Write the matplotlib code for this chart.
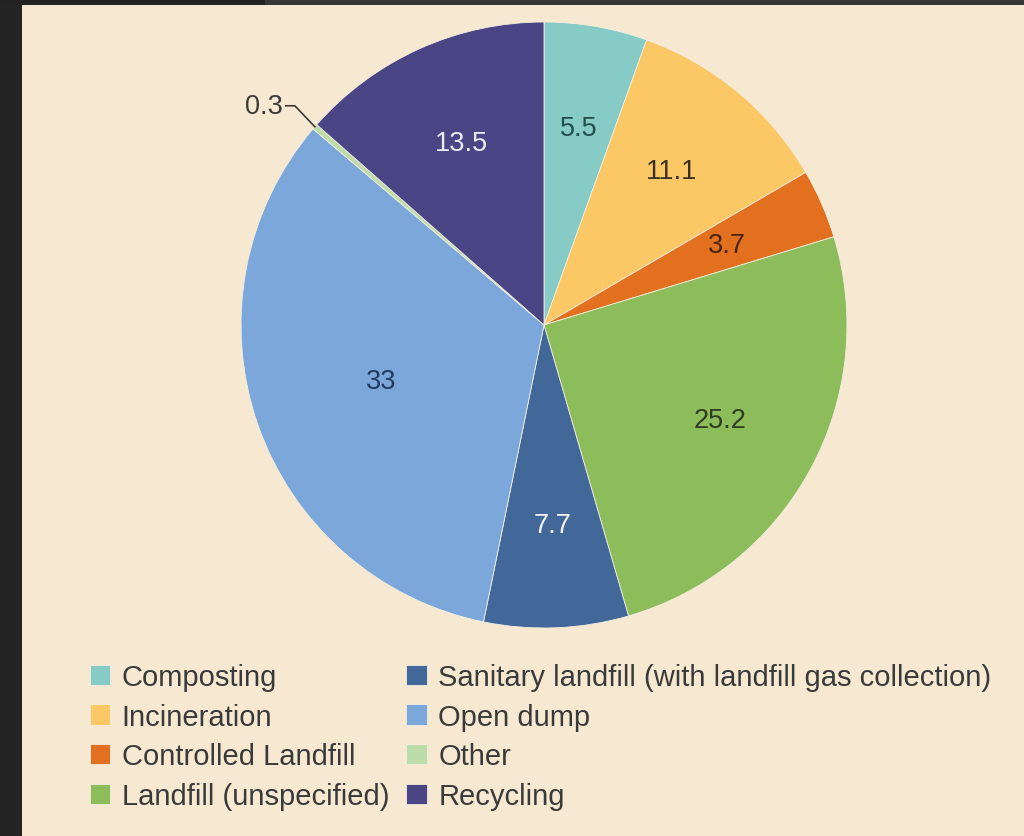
"""
Global municipal waste treatment and disposal, share by method (%)
"""

import numpy as np
import matplotlib.pyplot as plt
from matplotlib.patches import Rectangle

# data
methods = ['Composting', 'Incineration', 'Controlled Landfill', 'Landfill (unspecified)',
           'Sanitary landfill (with landfill gas collection)', 'Open dump', 'Other', 'Recycling']
shares = [5.5, 11.1, 3.7, 25.2, 7.7, 33, 0.3, 13.5]
value_labels = ['5.5', '11.1', '3.7', '25.2', '7.7', '33', '0.3', '13.5']

colors = ['#86cbc6', '#fbc865', '#e2701f', '#8dbd5b', '#42689a', '#7ba7da', '#bcdcaa', '#4a4585']
text_colors = ['#24504c', '#3a3020', '#4a2410', '#2e3d22', '#f2f2f6', '#223a5c', '#3a3a3a', '#ecebf4']
bg = '#f7e9d1'
fs = 19.5

fig = plt.figure(figsize=(10.24, 8.37), dpi=100, facecolor='#242424')
# beige panel, dark strip above it (lighter on the right)
fig.add_artist(Rectangle((22 / 1024, 0), 1, 831 / 837, facecolor=bg, edgecolor='none',
                         zorder=0, transform=fig.transFigure))
fig.add_artist(Rectangle((0, 831 / 837), 265 / 1024, 6 / 837, facecolor='#232323',
                         edgecolor='none', zorder=0, transform=fig.transFigure))
fig.add_artist(Rectangle((265 / 1024, 831 / 837), 1, 6 / 837, facecolor='#353535',
                         edgecolor='none', zorder=0, transform=fig.transFigure))

ax = fig.add_axes([0, 0, 1, 1])
ax.patch.set_alpha(0)

cx, cy, r = 544, 511, 303
wedges, _ = ax.pie(shares, colors=colors, startangle=90, counterclock=False,
                   center=(cx, cy), radius=r, frame=True,
                   wedgeprops=dict(edgecolor='#f3ede0', linewidth=0.6))
ax.set_xlim(0, 1024)
ax.set_ylim(0, 837)
ax.set_aspect('equal')
ax.axis('off')

for w, lab, tc in zip(wedges, value_labels, text_colors):
    mid = np.deg2rad((w.theta1 + w.theta2) / 2)
    if lab == '0.3':
        # tiny slice: label outside with a leader line
        ex, ey = cx + r * np.cos(mid), cy + r * np.sin(mid)
        ax.plot([ex, ex - 20, ex - 29], [ey, ey + 21, ey + 21], color='#3a3a3a', lw=1.2)
        ax.text(ex - 32, ey + 21, lab, fontsize=fs, color='#3a3a3a',
                ha='right', va='center', family='Liberation Sans')
        continue
    d = 0.57 if lab == '33' else 0.66
    ax.text(cx + d * r * np.cos(mid), cy + d * r * np.sin(mid), lab, fontsize=fs,
            color=tc, ha='center', va='center', family='Liberation Sans')

leg = ax.legend(wedges, methods, ncol=2, loc='upper left', bbox_to_anchor=(0.062, 0.238),
                frameon=False, handlelength=0.7, handleheight=0.7,
                handletextpad=0.4, labelspacing=0.4, columnspacing=0.58,
                prop={'family': 'Liberation Sans', 'size': 21})
for t in leg.get_texts():
    t.set_color('#3a3a3a')

fig.savefig('out.png', dpi=100, facecolor=fig.get_facecolor())
